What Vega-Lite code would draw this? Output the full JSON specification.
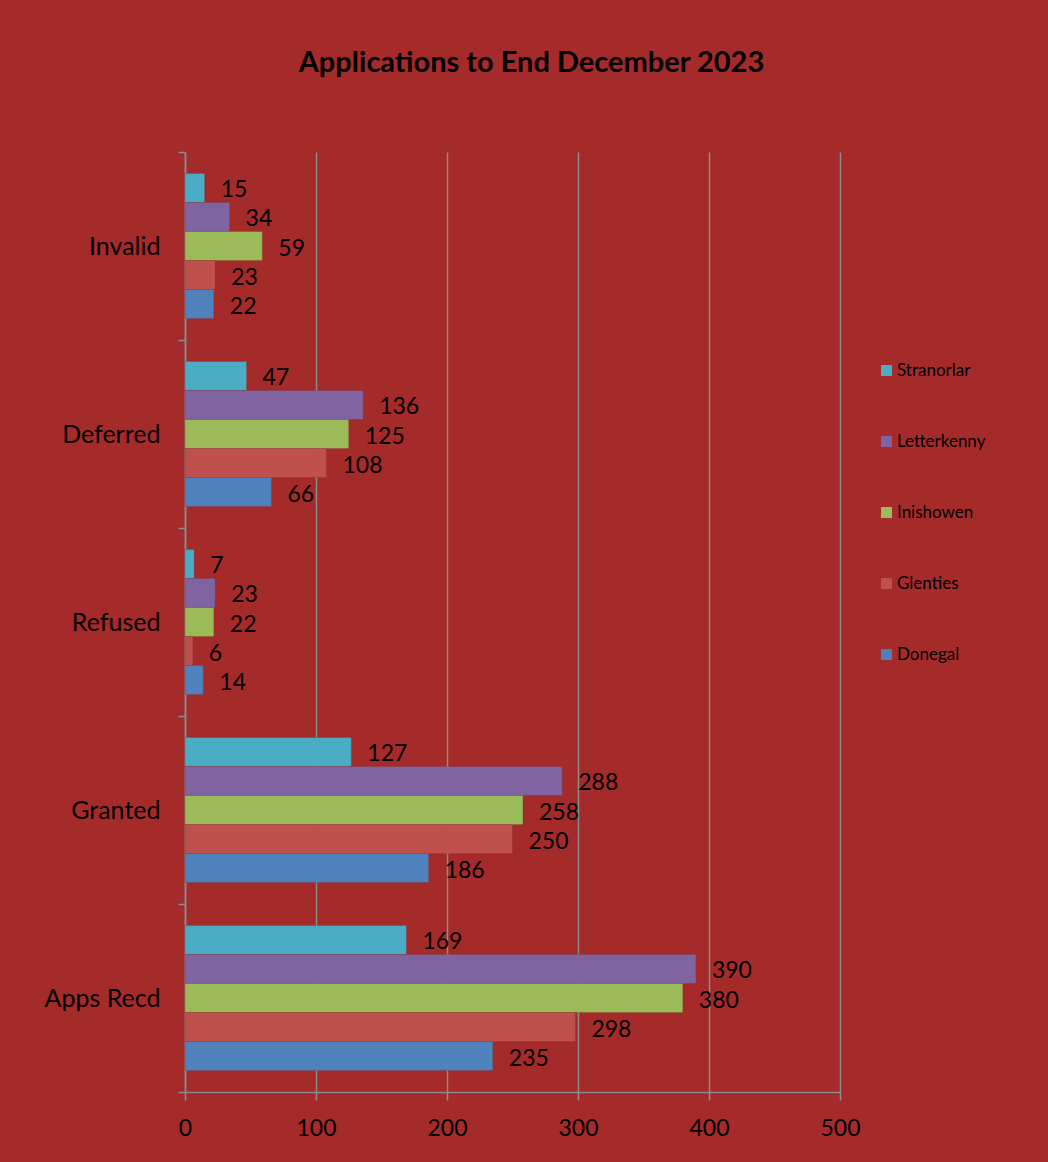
{
  "$schema": "https://vega.github.io/schema/vega-lite/v6.json",
  "width": 655,
  "height": 940,
  "autosize": {"type": "none"},
  "padding": {"left": 185, "top": 152, "right": 208, "bottom": 70},
  "background": "#A52A2A",
  "title": {"text": "Applications to End December 2023", "font": "Lato", "fontSize": 29, "fontWeight": "bold", "color": "black", "anchor": "middle", "dx": 19, "offset": 62},
  "config": {"view": {"stroke": null}},
  "data": {"values": [
    {"category": "Invalid", "office": "Stranorlar", "value": 15},
    {"category": "Invalid", "office": "Letterkenny", "value": 34},
    {"category": "Invalid", "office": "Inishowen", "value": 59},
    {"category": "Invalid", "office": "Glenties", "value": 23},
    {"category": "Invalid", "office": "Donegal", "value": 22},
    {"category": "Deferred", "office": "Stranorlar", "value": 47},
    {"category": "Deferred", "office": "Letterkenny", "value": 136},
    {"category": "Deferred", "office": "Inishowen", "value": 125},
    {"category": "Deferred", "office": "Glenties", "value": 108},
    {"category": "Deferred", "office": "Donegal", "value": 66},
    {"category": "Refused", "office": "Stranorlar", "value": 7},
    {"category": "Refused", "office": "Letterkenny", "value": 23},
    {"category": "Refused", "office": "Inishowen", "value": 22},
    {"category": "Refused", "office": "Glenties", "value": 6},
    {"category": "Refused", "office": "Donegal", "value": 14},
    {"category": "Granted", "office": "Stranorlar", "value": 127},
    {"category": "Granted", "office": "Letterkenny", "value": 288},
    {"category": "Granted", "office": "Inishowen", "value": 258},
    {"category": "Granted", "office": "Glenties", "value": 250},
    {"category": "Granted", "office": "Donegal", "value": 186},
    {"category": "Apps Recd", "office": "Stranorlar", "value": 169},
    {"category": "Apps Recd", "office": "Letterkenny", "value": 390},
    {"category": "Apps Recd", "office": "Inishowen", "value": 380},
    {"category": "Apps Recd", "office": "Glenties", "value": 298},
    {"category": "Apps Recd", "office": "Donegal", "value": 235}
  ]},
  "encoding": {
    "y": {
      "field": "category", "type": "nominal",
      "sort": ["Invalid", "Deferred", "Refused", "Granted", "Apps Recd"],
      "scale": {"paddingInner": 0, "paddingOuter": 0},
      "axis": {"title": null, "tickBand": "extent", "ticks": true, "tickSize": 7, "tickColor": "#8c8c8c", "tickWidth": 1.5, "domainColor": "#8c8c8c", "domainWidth": 1.5, "labelFont": "Lato", "labelFontSize": 25, "labelColor": "black", "labelPadding": 18, "grid": false}
    },
    "yOffset": {"field": "office", "type": "nominal", "sort": ["Stranorlar", "Letterkenny", "Inishowen", "Glenties", "Donegal"], "scale": {"paddingInner": 0, "paddingOuter": 0.741}},
    "x": {
      "field": "value", "type": "quantitative",
      "scale": {"domain": [0, 500]},
      "axis": {"title": null, "values": [0, 100, 200, 300, 400, 500], "grid": true, "gridColor": "#8c8c8c", "gridWidth": 1.5, "domainColor": "#8c8c8c", "domainWidth": 1.5, "tickColor": "#8c8c8c", "tickWidth": 1.5, "tickSize": 8, "labelFlush": false, "labelFont": "Lato", "labelFontSize": 23, "labelColor": "black", "labelPadding": 17}
    }
  },
  "layer": [
    {
      "mark": {"type": "bar", "stroke": "#7a3030", "strokeWidth": 0.5, "strokeOpacity": 0.5},
      "encoding": {
        "color": {
          "field": "office", "type": "nominal",
          "scale": {"domain": ["Stranorlar", "Letterkenny", "Inishowen", "Glenties", "Donegal"], "range": ["#4BACC6", "#8064A2", "#9BBB59", "#C0504D", "#4F81BD"]},
          "legend": {"orient": "none", "legendX": 693, "legendY": 210, "title": null, "symbolType": "square", "symbolSize": 121, "symbolStrokeWidth": 0, "labelFont": "Lato", "labelFontSize": 17, "labelColor": "black", "labelOffset": 2, "rowPadding": 53, "padding": 0}
        }
      }
    },
    {
      "mark": {"type": "text", "align": "left", "baseline": "middle", "dx": 16, "dy": 2.5, "font": "Lato", "fontSize": 23, "color": "black"},
      "encoding": {"text": {"field": "value", "type": "quantitative"}}
    }
  ]
}
